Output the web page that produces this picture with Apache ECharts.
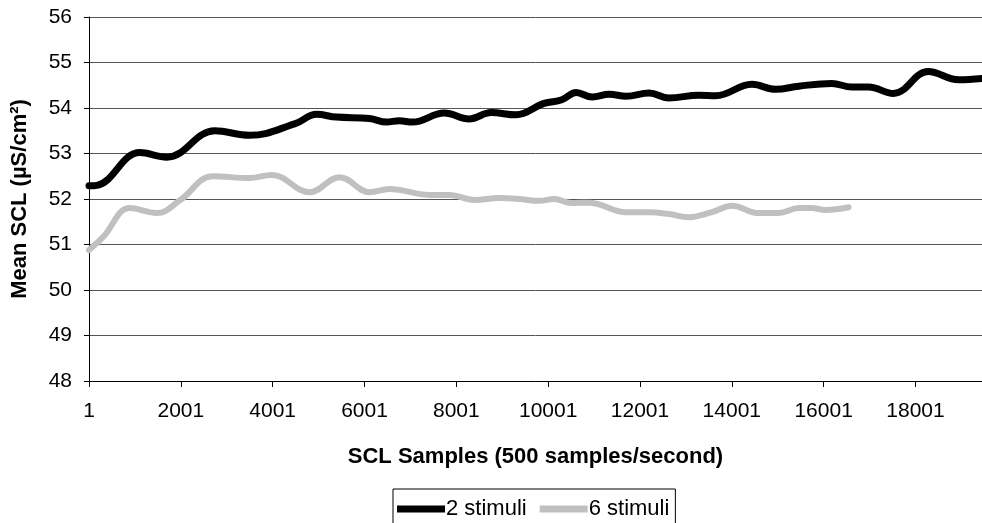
<!DOCTYPE html>
<html>
<head>
<meta charset="utf-8">
<script src="https://cdn.jsdelivr.net/npm/echarts@6/dist/echarts.min.js"></script>
<style>
html,body{margin:0;padding:0;background:#fff;}
#chart{width:982px;height:523px;}
</style>
</head>
<body>
<div id="chart"></div>
<script>
// Sample index (x) and mean SCL (y)
const samples2 = [1, 175, 1110, 1697, 2740, 3500, 4480, 4960, 5390, 6110, 6480, 6760, 7045, 7740, 8280, 8760, 9300, 9910, 10300, 10610, 10960, 11330, 11700, 12200, 12630, 13280, 13650, 14440, 14960, 15460, 16180, 16610, 16980, 17520, 18280, 18940, 19450];
const values2 = [52.29, 52.3, 53.02, 52.92, 53.5, 53.4, 53.65, 53.86, 53.8, 53.77, 53.69, 53.72, 53.69, 53.89, 53.76, 53.9, 53.85, 54.1, 54.18, 54.34, 54.24, 54.3, 54.26, 54.33, 54.22, 54.28, 54.27, 54.52, 54.41, 54.48, 54.54, 54.46, 54.46, 54.32, 54.8, 54.62, 54.65];

const samples6 = [1, 305, 892, 1480, 1980, 2697, 3500, 3980, 4806, 5458, 6110, 6545, 7415, 7850, 8393, 8937, 9372, 9806, 10132, 10502, 10893, 11110, 11697, 12197, 12632, 13067, 13567, 14002, 14589, 15024, 15458, 15740, 16045, 16545];
const values6 = [50.88, 51.16, 51.8, 51.69, 51.97, 52.5, 52.46, 52.53, 52.15, 52.48, 52.15, 52.22, 52.09, 52.09, 51.98, 52.02, 52.0, 51.96, 52.0, 51.91, 51.92, 51.88, 51.71, 51.71, 51.67, 51.6, 51.71, 51.85, 51.69, 51.69, 51.8, 51.8, 51.76, 51.82];

const xTicks = [1, 2001, 4001, 6001, 8001, 10001, 12001, 14001, 16001, 18001];
const seriesNames = ['2 stimuli', '6 stimuli'];

const zip = (xs, ys) => xs.map((x, i) => [x, ys[i]]);
const font = 'Arial, "Liberation Sans", sans-serif';

const chart = echarts.init(document.getElementById('chart'), null, {renderer: 'canvas'});
chart.setOption({
  animation: false,
  backgroundColor: '#fff',
  grid: {left: 89, top: 17, right: 0, bottom: 142, containLabel: false},
  legend: {
    data: [
      {name: seriesNames[0], icon: 'rect', itemStyle: {color: '#000'}},
      {name: seriesNames[1], icon: 'rect', itemStyle: {color: '#c0c0c0'}}
    ],
    left: 393, top: 489,
    itemWidth: 48, itemHeight: 7, itemGap: 13,
    borderColor: '#000', borderWidth: 1, borderRadius: 0,
    padding: [9, 6, 9, 4],
    textStyle: {fontFamily: font, fontSize: 22, color: '#000', padding: [0, 0, 0, -4]}
  },
  xAxis: {
    type: 'value',
    min: 1, max: 19450,
    name: 'SCL Samples (500 samples/second)',
    nameLocation: 'middle', nameGap: 65,
    nameTextStyle: {fontFamily: font, fontSize: 22, fontWeight: 'bold', color: '#000'},
    axisLine: {show: true, lineStyle: {color: '#000', width: 1}},
    axisTick: {show: true, length: 6, lineStyle: {color: '#000'}, customValues: xTicks},
    axisLabel: {fontFamily: font, fontSize: 21, color: '#000', margin: 20, customValues: xTicks, formatter: v => String(v)},
    splitLine: {show: false}
  },
  yAxis: {
    type: 'value',
    min: 48, max: 56, interval: 1,
    name: 'Mean SCL (µS/cm²)',
    nameLocation: 'middle', nameGap: 58, nameRotate: 90,
    nameTextStyle: {fontFamily: font, fontSize: 22, fontWeight: 'bold', color: '#000'},
    axisLine: {show: true, lineStyle: {color: '#000', width: 1}},
    axisTick: {show: true, length: 5, lineStyle: {color: '#000'}},
    axisLabel: {fontFamily: font, fontSize: 21, color: '#000', margin: 17},
    splitLine: {show: true, lineStyle: {color: '#555', width: 1}}
  },
  series: [
    {
      name: seriesNames[0], type: 'line', data: zip(samples2, values2),
      smooth: 0.4, symbol: 'none',
      lineStyle: {color: '#000', width: 7, cap: 'round', join: 'round'},
      itemStyle: {color: '#000'}, z: 3
    },
    {
      name: seriesNames[1], type: 'line', data: zip(samples6, values6),
      smooth: 0.4, symbol: 'none',
      lineStyle: {color: '#c0c0c0', width: 6, cap: 'round', join: 'round'},
      itemStyle: {color: '#c0c0c0'}, z: 2
    }
  ]
});
</script>
</body>
</html>
